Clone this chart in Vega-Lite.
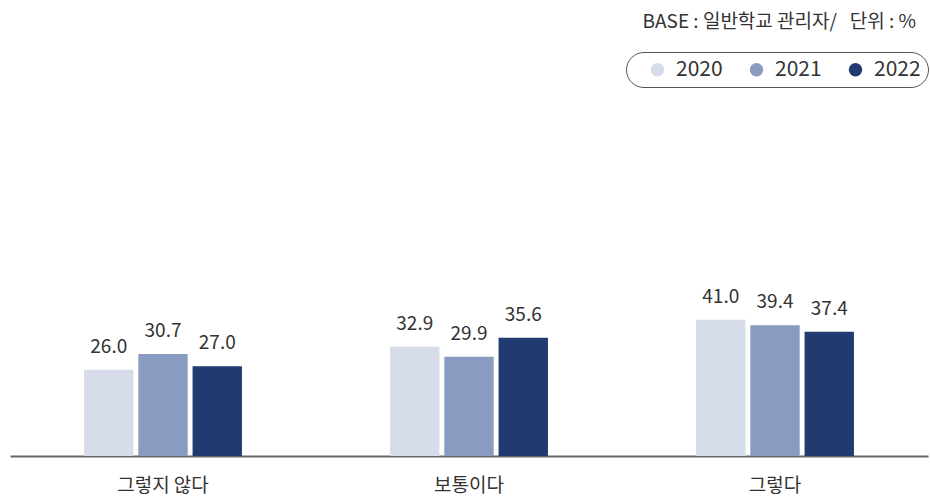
{
  "$schema": "https://vega.github.io/schema/vega-lite/v6.json",
  "autosize": "none",
  "width": 918,
  "height": 356,
  "padding": {"left": 10, "top": 100, "right": 2, "bottom": 46},
  "background": "white",
  "config": {"view": {"stroke": null}},
  "title": {
    "text": "BASE : 일반학교 관리자/\u00a0\u00a0\u00a0단위 : %",
    "anchor": "end",
    "frame": "group",
    "orient": "top",
    "font": "Noto Sans CJK KR",
    "fontSize": 19,
    "fontWeight": "normal",
    "color": "#333333",
    "offset": 20,
    "dx": -12
  },
  "data": {
    "values": [
      {"cat": "그렇지 않다", "year": "2020", "value": 26.0},
      {"cat": "그렇지 않다", "year": "2021", "value": 30.7},
      {"cat": "그렇지 않다", "year": "2022", "value": 27.0},
      {"cat": "보통이다", "year": "2020", "value": 32.9},
      {"cat": "보통이다", "year": "2021", "value": 29.9},
      {"cat": "보통이다", "year": "2022", "value": 35.6},
      {"cat": "그렇다", "year": "2020", "value": 41.0},
      {"cat": "그렇다", "year": "2021", "value": 39.4},
      {"cat": "그렇다", "year": "2022", "value": 37.4}
    ]
  },
  "encoding": {
    "x": {
      "field": "cat",
      "type": "nominal",
      "sort": null,
      "scale": {"paddingInner": 0.484, "paddingOuter": 0.242},
      "axis": {
        "title": null,
        "labelAngle": 0,
        "ticks": false,
        "domainColor": "#666666",
        "domainWidth": 2,
        "labelFont": "Noto Sans CJK KR",
        "labelFontSize": 19,
        "labelColor": "#333333",
        "labelPadding": 20
      }
    },
    "xOffset": {
      "field": "year",
      "type": "nominal",
      "scale": {"paddingInner": 0.09}
    },
    "y": {
      "field": "value",
      "type": "quantitative",
      "scale": {"domain": [0, 107.2]},
      "axis": null
    }
  },
  "layer": [
    {
      "mark": {"type": "bar"},
      "encoding": {
        "color": {
          "field": "year",
          "type": "nominal",
          "scale": {"domain": ["2020", "2021", "2022"], "range": ["#d6dce9", "#8a9bc2", "#213a6f"]},
          "legend": {
            "title": null,
            "orient": "none",
            "direction": "horizontal",
            "legendX": 616,
            "legendY": -48,
            "symbolType": "circle",
            "symbolSize": 180,
            "symbolStrokeWidth": 0,
            "symbolOffset": 14,
            "labelFont": "Noto Sans CJK KR",
            "labelFontSize": 21,
            "labelColor": "#333333",
            "labelOffset": 8,
            "columnPadding": 9,
            "padding": 7,
            "strokeColor": "#555555",
            "cornerRadius": 18,
            "fillColor": "white"
          }
        }
      }
    },
    {
      "mark": {
        "type": "text",
        "baseline": "alphabetic",
        "dy": -17,
        "font": "Noto Sans CJK KR",
        "fontSize": 19,
        "color": "#333333"
      },
      "encoding": {
        "text": {"field": "value", "type": "quantitative", "format": ".1f"}
      }
    }
  ]
}
